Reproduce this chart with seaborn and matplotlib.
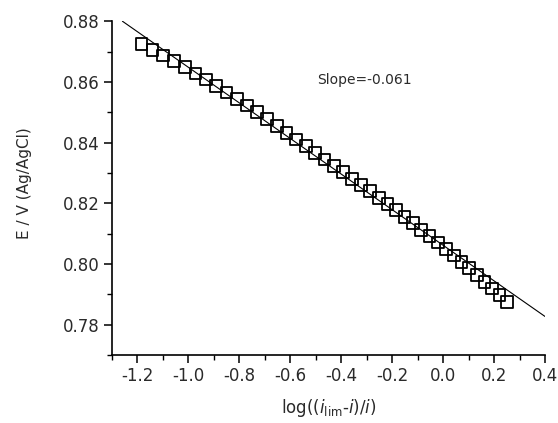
import matplotlib
matplotlib.use("Agg")
import matplotlib.pyplot as plt
import seaborn as sns
from matplotlib.ticker import MultipleLocator

# Data
x_data = [-1.1840, -1.1410, -1.0984, -1.0560, -1.0141, -0.9725, -0.9313, -0.8905, -0.8501, -0.8100,
          -0.7703, -0.7310, -0.6920, -0.6533, -0.6151, -0.5772, -0.5397, -0.5026, -0.4658, -0.4294,
          -0.3934, -0.3577, -0.3224, -0.2875, -0.2529, -0.2187, -0.1849, -0.1514, -0.1183, -0.0856,
          -0.0532, -0.0212, 0.0104, 0.0417, 0.0725, 0.1030, 0.1332, 0.1629, 0.1924, 0.2215, 0.2500]
y_data = [0.8726, 0.8706, 0.8687, 0.8668, 0.8648, 0.8628, 0.8608, 0.8587, 0.8565, 0.8543,
          0.8522, 0.8500, 0.8477, 0.8454, 0.8432, 0.8410, 0.8388, 0.8366, 0.8344, 0.8323,
          0.8302, 0.8281, 0.8260, 0.8240, 0.8218, 0.8197, 0.8177, 0.8156, 0.8134, 0.8113,
          0.8092, 0.8071, 0.8050, 0.8028, 0.8007, 0.7986, 0.7964, 0.7941, 0.7919, 0.7897, 0.7874]
fit_x = [-1.259, 0.400]
fit_y = [0.8800, 0.7827]
x_ticks = [-1.2, -1.0, -0.8, -0.6, -0.4, -0.2, 0.0, 0.2, 0.4]
y_ticks = [0.78, 0.80, 0.82, 0.84, 0.86, 0.88]
slope_label = "Slope=-0.061"

sns.set_theme(style="ticks")
plt.rcParams['font.family'] = ['DejaVu Sans']
plt.rcParams['mathtext.fontset'] = 'dejavusans'
text_color = "#2a2a2a"

fig = plt.figure(figsize=(5.58, 4.23), dpi=100)
ax = fig.add_axes([0.2007, 0.1608, 0.776, 0.789])

sns.lineplot(x=fit_x, y=fit_y, ax=ax, color="black", linewidth=0.8)
sns.scatterplot(x=x_data, y=y_data, ax=ax, marker="s", s=72,
                facecolors="none", edgecolor="black", linewidth=1.3, zorder=3)

ax.set_xlim(-1.3, 0.4)
ax.set_ylim(0.77, 0.88)
ax.set_xticks(x_ticks)
ax.set_xticklabels([f"{v:.1f}" for v in x_ticks])
ax.set_yticks(y_ticks)
ax.set_yticklabels([f"{v:.2f}" for v in y_ticks])
ax.xaxis.set_minor_locator(MultipleLocator(0.1))
ax.yaxis.set_minor_locator(MultipleLocator(0.01))
ax.tick_params(axis="both", which="major", direction="out", length=6, width=1.1,
               labelsize=12, color="black", labelcolor=text_color, pad=3)
ax.tick_params(axis="both", which="minor", direction="out", length=3.5, width=1.0,
               color="black")

for side in ["top", "right"]:
    ax.spines[side].set_visible(False)
for side in ["left", "bottom"]:
    ax.spines[side].set_linewidth(1.2)
    ax.spines[side].set_color("black")

ax.set_ylabel("E / V (Ag/AgCl)", fontsize=11, color=text_color)
ax.yaxis.set_label_coords(-0.184, 0.515)
ax.set_xlabel(r"log(($\it{i}_{\rm lim}$-$\it{i}$)/$\it{i}$)", fontsize=12,
              labelpad=8, color=text_color)
ax.text(-0.493, 0.8606, slope_label, fontsize=10, va="center", ha="left", color=text_color)

fig.savefig("out.png", dpi=100)
